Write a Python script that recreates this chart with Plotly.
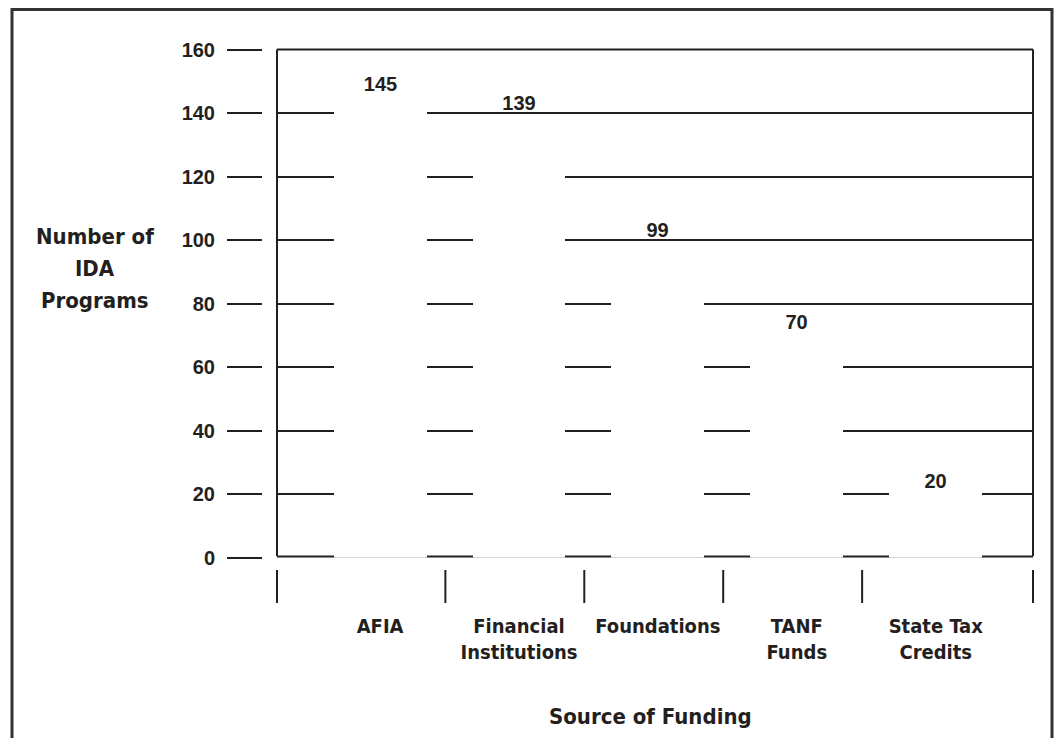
import plotly.graph_objects as go

# ---- data ----
categories = ["AFIA", "Financial<br>Institutions", "Foundations", "TANF<br>Funds", "State Tax<br>Credits"]
values = [145, 139, 99, 70, 20]
y_ticks = [0, 20, 40, 60, 80, 100, 120, 140, 160]
y_title_lines = ["Number of", "IDA", "Programs"]
x_title = "Source of Funding"

# figure sized so the html page (8px body margin) does not scroll
W, H = 1046, 730
OFF = 8
INK = "#231f20"
NUM_FONT = "Liberation Sans, Arial, sans-serif"
TXT_FONT = "DejaVu Sans Condensed, Liberation Sans Narrow, sans-serif"


def px(p):
    return (p - OFF) / W


def py(p):
    return (H - (p - OFF)) / H


# layout geometry (screen pixels -> paper fractions)
x_dom = [px(277), px(1033)]
y_dom = [py(557.5), py(49.5)]
x_rng = [-0.742, 4.70]


def xpaper(v):
    return x_dom[0] + (v - x_rng[0]) / (x_rng[1] - x_rng[0]) * (x_dom[1] - x_dom[0])


fig = go.Figure()
fig.add_trace(go.Bar(
    x=list(range(len(categories))),
    y=values,
    width=0.64,
    marker=dict(color="white", line=dict(width=4, color="white")),
    text=[str(v) for v in values],
    textposition="outside",
    textfont=dict(family=NUM_FONT, size=20, color=INK, weight="bold"),
    cliponaxis=False,
    hoverinfo="skip",
))

shapes = []
# outer border (bottom edge falls outside the page)
shapes.append(dict(type="rect", xref="paper", yref="paper",
                   x0=px(12), x1=(W - 2) / W, y0=-0.05, y1=(H - 1.5) / H,
                   line=dict(color="#333", width=3), fillcolor="rgba(0,0,0,0)", layer="above"))
# zero grid line (kept just inside the plot so the white bars hide it)
shapes.append(dict(type="line", xref="paper", yref="paper",
                   x0=x_dom[0], x1=x_dom[1], y0=py(556.5), y1=py(556.5),
                   line=dict(color=INK, width=2), layer="below"))
# plot frame: left, top, right
for (xa, ya, xb, yb) in [(x_dom[0], py(556), x_dom[0], y_dom[1]),
                         (x_dom[0], y_dom[1], x_dom[1], y_dom[1]),
                         (x_dom[1], y_dom[1], x_dom[1], py(556))]:
    shapes.append(dict(type="line", xref="paper", yref="paper", x0=xa, y0=ya, x1=xb, y1=yb,
                       line=dict(color=INK, width=2), layer="above"))
# category separator ticks below the plot
sep_positions = [x_dom[0]] + [xpaper(i + 0.47) for i in range(len(categories) - 1)] + [x_dom[1]]
for xp in sep_positions:
    shapes.append(dict(type="line", xref="paper", yref="paper", x0=xp, x1=xp,
                       y0=py(603), y1=py(570),
                       line=dict(color=INK, width=2), layer="above"))

annotations = []
for i, line in enumerate(y_title_lines):
    annotations.append(dict(text=line, xref="paper", yref="paper",
                            x=px(95), y=py(236 + 32 * i), xanchor="center", yanchor="middle",
                            showarrow=False,
                            font=dict(family=TXT_FONT, size=22, color=INK, weight="bold")))
annotations.append(dict(text=x_title, xref="paper", yref="paper",
                        x=px(650), y=py(716), xanchor="center", yanchor="middle", showarrow=False,
                        font=dict(family=TXT_FONT, size=22, color=INK, weight="bold")))

fig.update_layout(
    width=W, height=H,
    margin=dict(l=0, r=0, t=0, b=0, autoexpand=False),
    paper_bgcolor="white", plot_bgcolor="white",
    showlegend=False,
    bargap=0,
    shapes=shapes,
    annotations=annotations,
    xaxis=dict(
        domain=x_dom, range=x_rng, anchor="y", automargin=False,
        tickmode="array", tickvals=list(range(len(categories))), ticktext=categories,
        ticks="", showgrid=False, zeroline=False, showline=False,
        tickfont=dict(family=TXT_FONT, size=20, color=INK, weight="bold"),
        ticklabelstandoff=54,
    ),
    yaxis=dict(
        domain=y_dom, range=[0, 160], anchor="free", position=px(262), automargin=False,
        tickmode="array", tickvals=y_ticks,
        ticks="outside", ticklen=35, tickwidth=2, tickcolor=INK,
        showgrid=True, gridcolor=INK, gridwidth=2,
        zeroline=False, showline=False,
        tickfont=dict(family=NUM_FONT, size=20, color=INK, weight="bold"),
        ticklabelstandoff=8,
    ),
)

fig.write_html("out.html")
